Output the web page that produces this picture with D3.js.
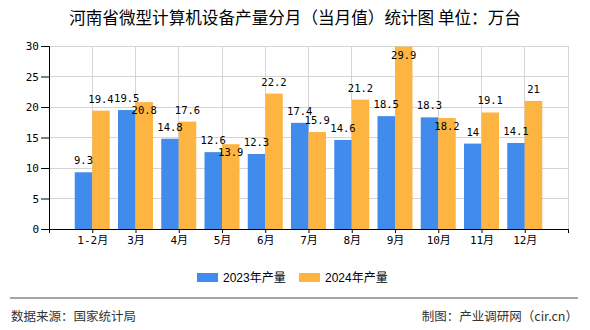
<!DOCTYPE html>
<html><head><meta charset="utf-8">
<script src="https://cdn.jsdelivr.net/npm/d3@7"></script>
<style>body{margin:0;background:#fff;}svg{display:block;}</style>
</head><body>
<svg id="c" width="590" height="330"></svg>
<script>
const categories = ["1-2月","3月","4月","5月","6月","7月","8月","9月","10月","11月","12月"];
const series2023 = [9.3,19.5,14.8,12.6,12.3,17.4,14.6,18.5,18.3,14,14.1];
const series2024 = [19.4,20.8,17.6,13.9,22.2,15.9,21.2,29.9,18.2,19.1,21];
const yTicks = [0,5,10,15,20,25,30];
const seriesNames = ["2023年产量","2024年产量"];
const colors = ["#418bec","#fdb441"];

const svg = d3.select("#c");
const L=49, R=568, T=46, B=229;
const x = d3.scaleLinear().domain([-1, categories.length]).range([L, R]);
const y = d3.scaleLinear().domain([0,30]).range([B, T]);
const bw = 17.5;
const monoFont = "'DejaVu Sans Mono','Noto Sans CJK SC',monospace";
const cjk = "'Noto Sans CJK SC',sans-serif";

// title
svg.append("text").attr("x",295).attr("y",24).attr("text-anchor","middle")
  .attr("font-family",cjk).attr("font-size",16.6).attr("fill","#000")
  .text("河南省微型计算机设备产量分月（当月值）统计图 单位：万台");

// grid
const g = svg.append("g");
g.selectAll(".hg").data(yTicks.filter(d=>d>0)).join("line")
  .attr("x1",L).attr("x2",R).attr("y1",d=>y(d)).attr("y2",d=>y(d))
  .attr("stroke","#d4d4d4").attr("stroke-width",1).attr("shape-rendering","crispEdges");
const xt = d3.range(0, categories.length+1);
g.selectAll(".vg").data(xt).join("line")
  .attr("x1",d=>x(d)).attr("x2",d=>x(d)).attr("y1",T).attr("y2",B)
  .attr("stroke","#d4d4d4").attr("stroke-width",1).attr("shape-rendering","crispEdges");

// bars
const data = categories.map((c,i)=>({c,i,a:series2023[i],b:series2024[i]}));
svg.selectAll(".ba").data(data).join("rect")
  .attr("x",d=>x(d.i)-bw).attr("width",bw).attr("y",d=>y(d.a)).attr("height",d=>B-y(d.a))
  .attr("fill",colors[0]);
svg.selectAll(".bb").data(data).join("rect")
  .attr("x",d=>x(d.i)).attr("width",bw).attr("y",d=>y(d.b)).attr("height",d=>B-y(d.b))
  .attr("fill",colors[1]);

// axes
const yAxis = d3.axisLeft(y).tickValues(yTicks).tickSize(8).tickPadding(2);
const ya = svg.append("g").attr("transform",`translate(${L},0)`).call(yAxis);
ya.select(".domain").attr("stroke","#000");
ya.selectAll(".tick line").attr("stroke","#000");
ya.selectAll(".tick text").attr("font-family",monoFont).attr("font-size",11).attr("fill","#000");

const xAxis = d3.axisBottom(x).tickValues(d3.range(-1, categories.length+1))
  .tickSize(4).tickPadding(3).tickFormat(d=> (d>=0 && d<categories.length) ? categories[d] : "");
const xa = svg.append("g").attr("transform",`translate(0,${B})`).call(xAxis);
xa.select(".domain").attr("stroke","#000");
xa.selectAll(".tick line").attr("stroke","#000");
xa.selectAll(".tick text").attr("font-family",monoFont).attr("font-size",11).attr("fill","#000");

// labels
const lbl = svg.append("g").attr("font-family",monoFont).attr("font-size",10.5).attr("fill","#000").attr("text-anchor","middle");
data.forEach(d=>{
  const bb = y(d.a)-8;
  let ob = y(d.b)-8;
  if (Math.abs(ob-bb) < 8.5 || ob-9 < T) ob = y(d.b)+12;
  lbl.append("text").attr("x",x(d.i)-bw/2).attr("y",bb).text(d.a);
  lbl.append("text").attr("x",x(d.i)+bw/2).attr("y",ob).text(d.b);
});

// legend
const legX = [197, 299];
seriesNames.forEach((n,i)=>{
  svg.append("rect").attr("x",legX[i]).attr("y",273).attr("width",21).attr("height",9).attr("fill",colors[i]);
  svg.append("text").attr("x",legX[i]+26).attr("y",282).attr("font-family","'Liberation Sans','Noto Sans CJK SC',sans-serif")
    .attr("font-size",12).attr("fill","#000").text(n);
});

// footer
svg.append("line").attr("x1",10).attr("x2",578).attr("y1",298).attr("y2",298).attr("stroke","#888").attr("stroke-width",1.5);
svg.append("text").attr("x",11).attr("y",321).attr("font-family",cjk).attr("font-size",12.5).attr("fill","#333").text("数据来源：国家统计局");
svg.append("text").attr("x",578).attr("y",321).attr("text-anchor","end").attr("font-family",cjk).attr("font-size",12.5).attr("fill","#333").text("制图：产业调研网（cir.cn）");
</script>
</body></html>
